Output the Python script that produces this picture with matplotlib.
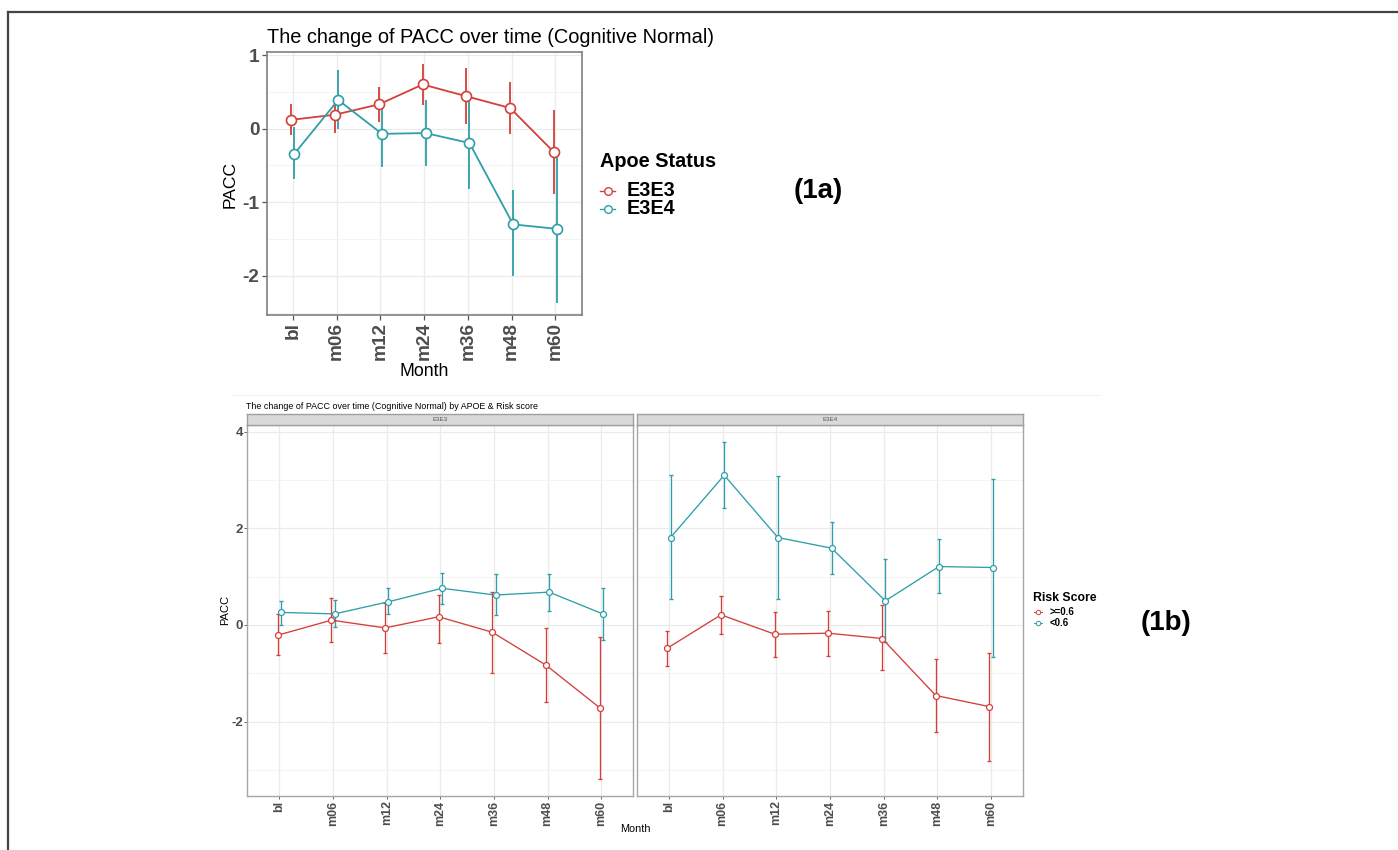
import numpy as np
import matplotlib
matplotlib.use("Agg")
import matplotlib.pyplot as plt
from matplotlib.lines import Line2D
from matplotlib.ticker import MultipleLocator

plt.rcParams['font.family'] = ['Liberation Sans', 'DejaVu Sans']

# ---------------- data ----------------
months = ["bl", "m06", "m12", "m24", "m36", "m48", "m60"]

# (1a) by APOE status
e3e3_mean = [0.12, 0.19, 0.33, 0.60, 0.44, 0.28, -0.32]
e3e3_low = [-0.09, -0.06, 0.09, 0.32, 0.07, -0.07, -0.89]
e3e3_high = [0.33, 0.42, 0.57, 0.88, 0.82, 0.63, 0.25]
e3e4_mean = [-0.34, 0.39, -0.07, -0.06, -0.195, -1.30, -1.36]
e3e4_low = [-0.69, 0.00, -0.52, -0.51, -0.82, -2.00, -2.37]
e3e4_high = [0.02, 0.79, 0.38, 0.39, 0.40, -0.83, -0.33]

# (1b) by APOE & risk score
apoe_panels = ["E3E3", "E3E4"]
risk_levels = [">=0.6", "<0.6"]
e3e3_hi_mean = [-0.21, 0.10, -0.06, 0.17, -0.15, -0.83, -1.71]
e3e3_hi_low = [-0.63, -0.36, -0.59, -0.38, -1.00, -1.59, -3.19]
e3e3_hi_high = [0.22, 0.55, 0.45, 0.62, 0.69, -0.07, -0.24]
e3e3_lo_mean = [0.26, 0.23, 0.48, 0.76, 0.62, 0.68, 0.23]
e3e3_lo_low = [0.01, -0.05, 0.23, 0.43, 0.21, 0.30, -0.31]
e3e3_lo_high = [0.50, 0.52, 0.76, 1.08, 1.05, 1.06, 0.76]
e3e4_hi_mean = [-0.48, 0.21, -0.19, -0.17, -0.28, -1.46, -1.69]
e3e4_hi_low = [-0.84, -0.19, -0.66, -0.64, -0.94, -2.21, -2.81]
e3e4_hi_high = [-0.12, 0.61, 0.26, 0.30, 0.41, -0.71, -0.57]
e3e4_lo_mean = [1.81, 3.10, 1.81, 1.59, 0.50, 1.21, 1.19]
e3e4_lo_low = [0.53, 2.42, 0.54, 1.05, -0.36, 0.66, -0.66]
e3e4_lo_high = [3.10, 3.79, 3.09, 2.14, 1.36, 1.77, 3.03]

RED = '#D43F3A'
TEAL = '#2E9FA8'
TICKC = '#4D4D4D'

W, H = 1398, 850
fig = plt.figure(figsize=(W / 100, H / 100), dpi=100)


def rect(x0, y0, x1, y1):
    return [x0 / W, 1 - y1 / H, (x1 - x0) / W, (y1 - y0) / H]


def ftext(x, y, s, **kw):
    return fig.text(x / W, 1 - y / H, s, **kw)


def fline(xs, ys, **kw):
    fig.add_artist(Line2D([x / W for x in xs], [1 - y / H for y in ys],
                          transform=fig.transFigure, **kw))


def series(ax, mean, low, high, color, off, lw, ms, mew, cap):
    x = np.arange(len(months)) + off
    mean = np.asarray(mean)
    yerr = [mean - np.asarray(low), np.asarray(high) - mean]
    ax.errorbar(x, mean, yerr=yerr, fmt='none', ecolor=color, elinewidth=lw,
                capsize=cap, capthick=lw, zorder=3)
    ax.plot(x, mean, '-', color=color, lw=lw, zorder=4)
    ax.plot(x, mean, 'o', ms=ms, mfc='white', mec=color, mew=mew, zorder=5)


def style(ax, major, minor, border, bw):
    ax.set_xlim(-0.6, 6.6)
    ax.set_xticks(np.arange(len(months)))
    ax.yaxis.set_major_locator(MultipleLocator(major))
    ax.yaxis.set_minor_locator(MultipleLocator(minor))
    ax.grid(True, which='major', color='#EBEBEB', lw=0.9, zorder=0)
    ax.grid(True, which='minor', axis='y', color='#F3F3F3', lw=0.6, zorder=0)
    ax.tick_params(which='minor', length=0)
    for sp in ax.spines.values():
        sp.set_color(border)
        sp.set_linewidth(bw)
    ax.set_axisbelow(True)


# figure frame lines
fline([8, W], [12, 12], color='#444444', lw=1.6)
fline([8, 8], [12, H], color='#444444', lw=1.6)
fline([232, 1100], [395, 395], color='#F2F2F2', lw=0.8)

# ---------------- (1a) ----------------
ax1 = fig.add_axes(rect(266.7, 51.7, 581.7, 315))
style(ax1, 1, 0.5, '#7F7F7F', 1.2)
ax1.set_ylim(-2.53, 1.045)
series(ax1, e3e3_mean, e3e3_low, e3e3_high, RED, -0.034, 1.3, 7.2, 1.2, 0)
series(ax1, e3e4_mean, e3e4_low, e3e4_high, TEAL, 0.034, 1.3, 7.2, 1.2, 0)
ax1.set_xticklabels(months, rotation=90, fontsize=13.7, fontweight='bold', color=TICKC)
ax1.set_yticks([1, 0, -1, -2])
ax1.set_yticklabels(['1', '0', '-1', '-2'], fontsize=13.7, fontweight='bold', color=TICKC)
ax1.tick_params(which='major', length=3.6, width=0.9, color='#555555', pad=1.5)

ftext(266.7, 43, "The change of PACC over time (Cognitive Normal)", fontsize=14.4,
      ha='left', va='baseline', color='black')
ftext(230, 184, "PACC", fontsize=12.6, rotation=90, ha='center', va='center')
ftext(424, 371.5, "Month", fontsize=12.7, ha='center', va='center')

# legend (1a)
ftext(600, 167, "Apoe Status", fontsize=14.3, fontweight='bold', ha='left', va='baseline')
for lab, col, yy in [("E3E3", RED, 190.5), ("E3E4", TEAL, 209)]:
    fline([600, 615], [yy, yy], color=col, lw=1.0)
    fig.add_artist(Line2D([607.5 / W], [1 - yy / H], transform=fig.transFigure,
                          marker='o', ms=5.5, mfc='white', mec=col, mew=1.0))
    ftext(626.7, yy, lab, fontsize=14.2, fontweight='bold', ha='left', va='center')
ftext(818, 191, "(1a)", fontsize=20, fontweight='bold', ha='center', va='center')

# ---------------- (1b) ----------------
panel_data = {
    "E3E3": [(e3e3_hi_mean, e3e3_hi_low, e3e3_hi_high, RED, -0.03),
             (e3e3_lo_mean, e3e3_lo_low, e3e3_lo_high, TEAL, 0.03)],
    "E3E4": [(e3e4_hi_mean, e3e4_hi_low, e3e4_hi_high, RED, -0.03),
             (e3e4_lo_mean, e3e4_lo_low, e3e4_lo_high, TEAL, 0.03)],
}
panel_x = {"E3E3": (247.3, 633.3), "E3E4": (636.7, 1023.3)}
for i, name in enumerate(apoe_panels):
    x0, x1 = panel_x[name]
    ax = fig.add_axes(rect(x0, 425, x1, 796))
    style(ax, 2, 1, '#A6A6A6', 1.0)
    ax.set_ylim(-3.54, 4.14)
    for mean, low, high, col, off in panel_data[name]:
        series(ax, mean, low, high, col, off, 0.95, 4.3, 0.9, 1.2)
    ax.set_xticklabels(months, rotation=90, fontsize=9, fontweight='bold', color=TICKC)
    ax.set_yticks([4, 2, 0, -2])
    ax.tick_params(which='major', length=2.2, width=0.7, color='#666666', pad=1)
    if i == 0:
        ax.set_yticklabels(['4', '2', '0', '-2'], fontsize=9.5, fontweight='bold',
                           color=TICKC)
    else:
        ax.set_yticklabels([])
        ax.tick_params(axis='y', which='both', length=0)
    # strip
    sax = fig.add_axes(rect(x0, 414.3, x1, 425))
    sax.set_xticks([])
    sax.set_yticks([])
    sax.set_facecolor('#D9D9D9')
    for sp in sax.spines.values():
        sp.set_color('#A0A0A0')
        sp.set_linewidth(1.0)
    sax.text(0.5, 0.5, name, transform=sax.transAxes, fontsize=4.5, color='#555555',
             ha='center', va='center')

ftext(246, 409, "The change of PACC over time (Cognitive Normal) by APOE & Risk score",
      fontsize=6.4, ha='left', va='baseline')
ftext(225, 610, "PACC", fontsize=8, rotation=90, ha='center', va='center')
ftext(635, 829, "Month", fontsize=7.8, ha='center', va='center')

# legend (1b)
ftext(1033, 600.7, "Risk Score", fontsize=8.8, fontweight='bold', ha='left',
      va='baseline')
for lab, col, yy in [(risk_levels[0], RED, 612.3), (risk_levels[1], TEAL, 622.8)]:
    fline([1034, 1042], [yy, yy], color=col, lw=0.7)
    fig.add_artist(Line2D([1038 / W], [1 - yy / H], transform=fig.transFigure,
                          marker='o', ms=3.2, mfc='white', mec=col, mew=0.7))
    ftext(1050, yy, lab, fontsize=7.0, fontweight='bold', ha='left', va='center')
ftext(1166.5, 623.5, "(1b)", fontsize=20, fontweight='bold', ha='center', va='center')

fig.savefig("out.png", dpi=100, facecolor='white')
